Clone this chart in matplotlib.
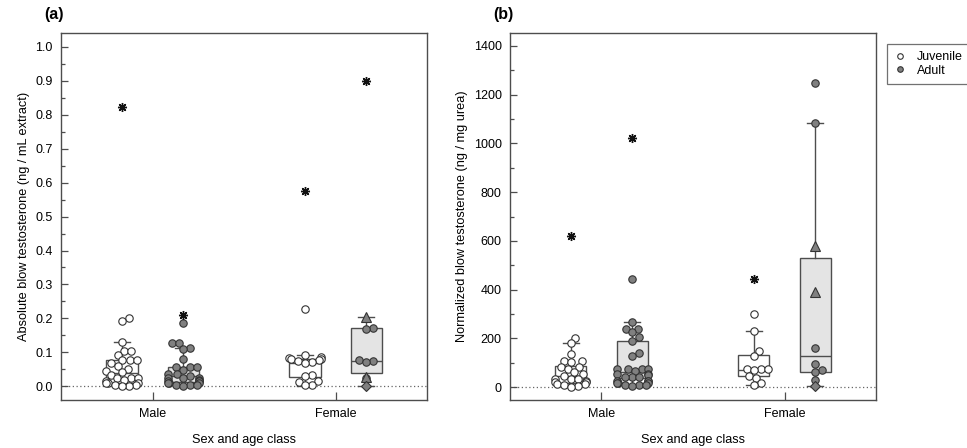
import numpy as np
import matplotlib.pyplot as plt
from matplotlib.lines import Line2D

plt.rcParams['font.family'] = ['Liberation Sans', 'DejaVu Sans']
plt.rcParams['font.size'] = 9

groups = ["Male", "Female"]
ages = ["Juvenile", "Adult"]

# ---- panel (a): absolute blow testosterone (ng / mL extract)
a_male_juv = [0.200, 0.192, 0.130, 0.105, 0.105, 0.093, 0.077, 0.077, 0.077, 0.068,
              0.060, 0.052, 0.044, 0.042, 0.034, 0.025, 0.025, 0.025, 0.020, 0.015,
              0.010, 0.010, 0.010, 0.005, 0.003, 0.002, 0.000]
a_male_ad = [0.188, 0.129, 0.127, 0.113, 0.110, 0.081, 0.057, 0.057, 0.057, 0.049,
             0.036, 0.036, 0.031, 0.025, 0.025, 0.025, 0.020, 0.015, 0.015, 0.015,
             0.010, 0.010, 0.010, 0.005, 0.005, 0.005, 0.002]
a_fem_juv = [0.229, 0.093, 0.088, 0.085, 0.082, 0.080, 0.078, 0.075, 0.072, 0.070,
             0.035, 0.030, 0.016, 0.013, 0.004, 0.003]
a_fem_ad = [0.173, 0.168, 0.078, 0.074, 0.072, 0.025]
a_fem_ad_tri = [0.204, 0.028]
a_fem_ad_dia = [0.000]
a_extreme = {"Male": [0.823, 0.210], "Female": [0.576, 0.900]}
# box stats: whislo, q1, med, q3, whishi  (juvenile, adult) per sex
a_box = {"Male": [(0.000, 0.010, 0.040, 0.079, 0.130), (0.002, 0.013, 0.031, 0.058, 0.113)],
         "Female": [(0.002, 0.029, 0.070, 0.081, 0.093), (0.000, 0.039, 0.075, 0.171, 0.204)]}

# ---- panel (b): normalized blow testosterone (ng / mg urea)
b_male_juv = [203, 180, 136, 109, 109, 101, 82, 82, 75, 61, 54, 44, 34, 34, 34,
              27, 20, 20, 14, 14, 7, 4, 2]
b_male_ad = [443, 266, 239, 239, 225, 204, 191, 140, 129, 75, 75, 75, 75, 68, 54,
             54, 48, 41, 41, 41, 27, 27, 27, 18, 18, 18, 10, 10, 10, 4]
b_fem_juv = [300, 232, 150, 128, 75, 75, 75, 70, 45, 38, 15, 10]
b_fem_ad = [1246, 1083, 161, 95, 71, 61, 30]
b_fem_ad_tri = [579, 392]
b_fem_ad_dia = [3]
b_extreme = {"Male": [620, 1024], "Female": [443, None]}
b_box = {"Male": [(2, 18, 44, 87, 180), (4, 37, 60, 191, 266)],
         "Female": [(8, 45, 71, 133, 232), (3, 64, 127, 531, 1083)]}

edge = "#4d4d4d"
adult_fill = "#808080"
box_fill = {"Juvenile": "white", "Adult": "#e4e4e4"}
pt_fill = {"Juvenile": "white", "Adult": adult_fill}
offset = {"Juvenile": -0.167, "Adult": 0.167}
box_w = 0.17
diam = 7.2


def swarm(ax, x0, vals, max_half):
    # simple beeswarm in pixel space
    pts = ax.transData.transform([(x0, v) for v in vals])
    ys = pts[:, 1]
    ppu = ax.transData.transform([(1, 0)])[0, 0] - ax.transData.transform([(0, 0)])[0, 0]
    lim = max_half * ppu
    placed = []
    xs = np.zeros(len(vals))
    for i in np.argsort(ys, kind="stable"):
        y = ys[i]
        cands = [0.0]
        for px, py in placed:
            dy = y - py
            if abs(dy) < diam:
                dx = np.sqrt(diam ** 2 - dy ** 2)
                cands += [px + dx, px - dx]
        cands.sort(key=abs)
        best = None
        for c in cands:
            if all((c - px) ** 2 + (y - py) ** 2 >= diam ** 2 - 1e-6 for px, py in placed):
                best = c
                break
        if best is None:
            best = lim
        best = float(np.clip(best, -lim, lim))
        placed.append((best, y))
        xs[i] = best
    return x0 + xs / ppu


fig = plt.figure(figsize=(9.67, 4.48), dpi=100)
ax_a = fig.add_axes([0.0631, 0.1071, 0.3785, 0.8192])
ax_b = fig.add_axes([0.5274, 0.1071, 0.3785, 0.8192])

panels = [
    (ax_a, (-0.04, 1.04), a_box, {"Male": {"Juvenile": a_male_juv, "Adult": a_male_ad},
                                  "Female": {"Juvenile": a_fem_juv, "Adult": a_fem_ad}},
     a_fem_ad_tri, a_fem_ad_dia, a_extreme, "(a)",
     "Absolute blow testosterone (ng / mL extract)", 0.1, 0.05, "{:.1f}"),
    (ax_b, (-53, 1453), b_box, {"Male": {"Juvenile": b_male_juv, "Adult": b_male_ad},
                                "Female": {"Juvenile": b_fem_juv, "Adult": b_fem_ad}},
     b_fem_ad_tri, b_fem_ad_dia, b_extreme, "(b)",
     "Normalized blow testosterone (ng / mg urea)", 200, 100, "{:.0f}"),
]

for ax, ylim, boxes, pts, tri, dia, extreme, tag, ylab, major, minor, fmt in panels:
    ax.set_xlim(-0.5, 1.5)
    ax.set_ylim(*ylim)
    ax.axhline(0, color="#666666", lw=0.9, ls=(0, (1, 2)), zorder=0)

    for gi, g in enumerate(groups):
        for ai, age in enumerate(ages):
            wl, q1, med, q3, wh = boxes[g][ai]
            pos = gi + offset[age]
            ax.bxp([dict(whislo=wl, q1=q1, med=med, q3=q3, whishi=wh, fliers=[])],
                   positions=[pos], widths=box_w, capwidths=box_w * 0.5,
                   patch_artist=True, showfliers=False,
                   boxprops=dict(facecolor=box_fill[age], edgecolor=edge, lw=1.0),
                   medianprops=dict(color=edge, lw=1.0),
                   whiskerprops=dict(color=edge, lw=1.0),
                   capprops=dict(color=edge, lw=1.0), zorder=1)
            vals = pts[g][age]
            xs = swarm(ax, pos, vals, box_w * 0.5)
            ax.scatter(xs, vals, s=diam ** 2 * 0.55, facecolor=pt_fill[age],
                       edgecolor="#333333", lw=0.8, zorder=3)
            ex = extreme[g][ai]
            if ex is not None:
                ax.plot([pos], [ex], marker=(8, 2, 0), ms=6.5, mew=1.0,
                        color="#111111", ls="none", zorder=4)

    pos = 1 + offset["Adult"]
    ax.plot([pos] * len(tri), tri, marker="^", ms=7.5, mfc=adult_fill,
            mec="#333333", mew=0.8, ls="none", zorder=3)
    ax.plot([pos] * len(dia), dia, marker="D", ms=5.5, mfc=adult_fill,
            mec="#333333", mew=0.8, ls="none", zorder=3)

    ax.set_xticks(range(len(groups)))
    ax.set_xticklabels(groups)
    yt = np.arange(0, ylim[1], major)
    ax.set_yticks(yt)
    ax.set_yticklabels([fmt.format(v) for v in yt])
    ax.set_yticks(np.arange(0, ylim[1], minor), minor=True)
    ax.tick_params(axis="y", which="major", direction="in", length=5, width=0.9,
                   color=edge, pad=6)
    ax.tick_params(axis="y", which="minor", direction="in", length=3, width=0.9,
                   color=edge)
    ax.tick_params(axis="x", direction="in", length=6, width=0.9, color=edge, pad=6)
    for sp in ax.spines.values():
        sp.set_color(edge)
        sp.set_linewidth(1.0)
    ax.set_ylabel(ylab, fontsize=9.2)
    ax.set_xlabel("Sex and age class", fontsize=9.2, labelpad=10)
    ax.text(-0.045, 1.03, tag, transform=ax.transAxes, fontsize=11.5,
            fontweight="bold", ha="left", va="bottom")

handles = [Line2D([], [], marker="o", ls="none", ms=4, mfc="white", mec="#333333", mew=0.8),
           Line2D([], [], marker="o", ls="none", ms=4, mfc=adult_fill, mec="#333333", mew=0.8)]
leg = fig.legend(handles, ages, loc="upper left", bbox_to_anchor=(0.917, 0.902),
                 borderaxespad=0, frameon=True, fancybox=False, fontsize=9,
                 handlelength=1.0, handletextpad=0.8, borderpad=0.6, labelspacing=0.1)
leg.get_frame().set_edgecolor(edge)
leg.get_frame().set_linewidth(0.9)

fig.savefig("out.png", dpi=100)
